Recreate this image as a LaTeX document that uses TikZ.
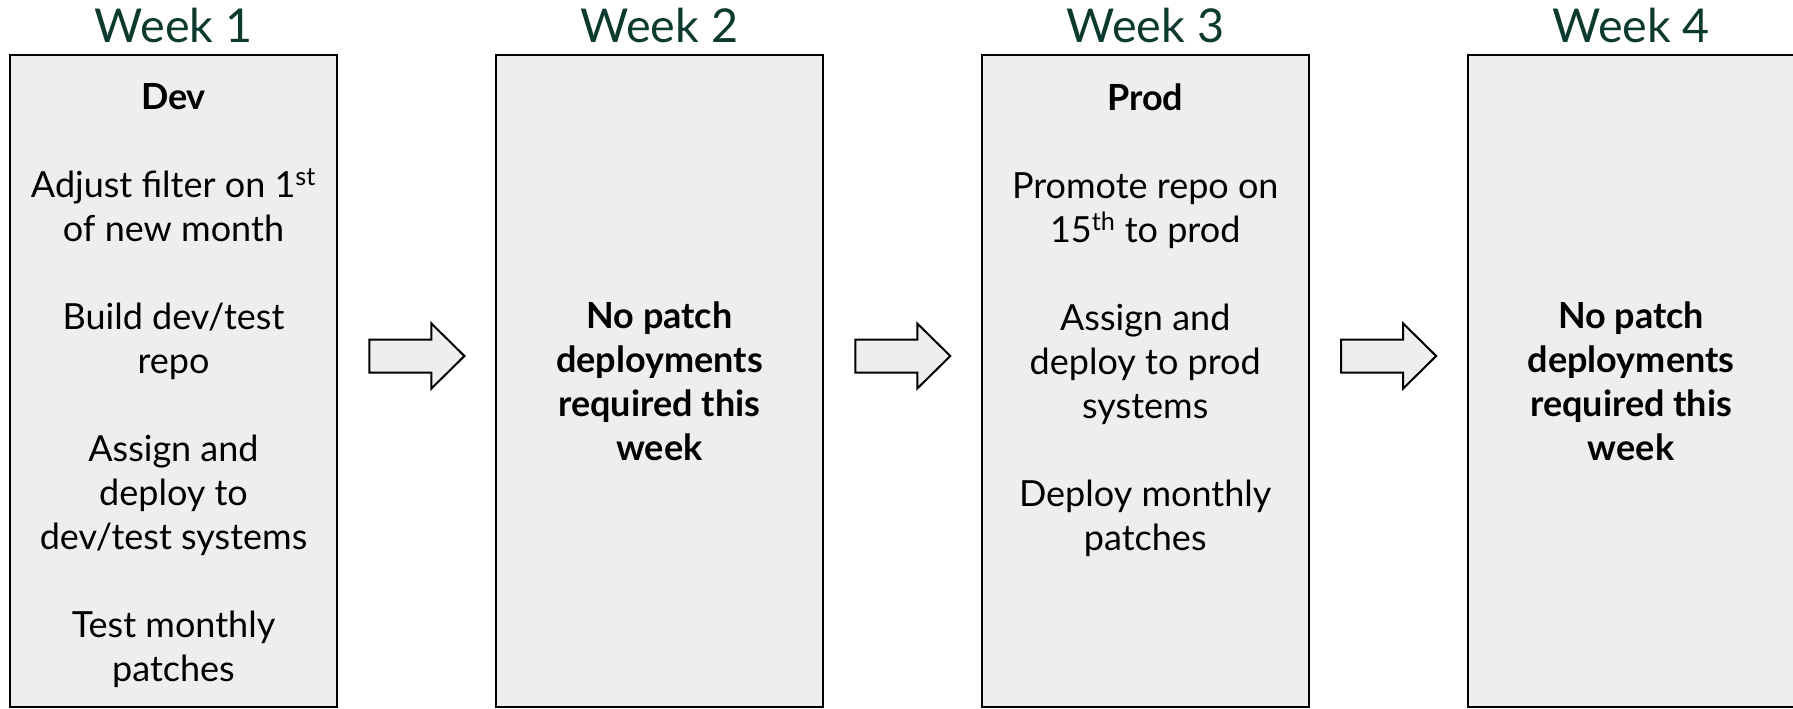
\documentclass[tikz,border=0pt]{standalone}
\usepackage{fontspec}
\setmainfont{Lato}
\usetikzlibrary{positioning,calc}
\definecolor{weekgreen}{RGB}{12,58,46}
\definecolor{boxgray}{RGB}{238,238,238}
\newcommand{\weekbodyfont}{\fontsize{27}{33}\selectfont}

\begin{document}
\begin{tikzpicture}[x=0.75pt, y=-0.75pt,
  weekbox/.style={draw=black, fill=boxgray, line width=1.5pt, inner sep=0pt,
                  minimum width=245pt, minimum height=489pt,
                  align=center, font=\weekbodyfont},
  weektitle/.style={anchor=base, text=weekgreen,
                    font=\fontsize{35}{40}\selectfont},
  boxtext/.style={anchor=north, inner sep=0pt, align=center, font=\weekbodyfont},
  blockarrow/.pic={
    \draw[line width=1.5pt, fill=boxgray, line join=miter]
      (-47,-16.5) -- (15,-16.5) -- (15,-32.5) -- (48,0)
      -- (15,32.5) -- (15,16.5) -- (-47,16.5) -- cycle;
  },
  ]

\useasboundingbox (0,0) rectangle (1793,708);

% Row of week boxes
\def\boxy{381}
\def\boxgap{117.9pt}

% ======================================================================
% The four week boxes
% ======================================================================
\node[weekbox] (wk1) at (173.5, \boxy) {};
\node[weekbox, right=\boxgap of wk1] (wk2)
  {\textbf{No patch}\\ \textbf{deployments}\\ \textbf{required this}\\ \textbf{week}};
\node[weekbox, right=\boxgap of wk2] (wk3) {};
\node[weekbox, right=\boxgap of wk3] (wk4)
  {\textbf{No patch}\\ \textbf{deployments}\\ \textbf{required this}\\ \textbf{week}};

% --- Week 1: dev tasks ---
\node[boxtext] (dev) at ([yshift=-22pt]wk1.north)
  {%
    \textbf{Dev}\\[33pt]
    Adjust filter on 1\textsuperscript{st}\\
    of new month\\[33pt]
    Build dev/test\\
    repo\\[33pt]
    Assign and\\
    deploy to\\
    dev/test systems\\[33pt]
    Test monthly\\
    patches
  };

% --- Week 3: prod tasks ---
\node[boxtext] (prod) at ([yshift=-22pt]wk3.north)
  {%
    \textbf{Prod}\\[33pt]
    Promote repo on\\
    15\textsuperscript{th} to prod\\[33pt]
    Assign and\\
    deploy to prod\\
    systems\\[33pt]
    Deploy monthly\\
    patches
  };

% ======================================================================
% Week titles
% ======================================================================
\foreach \w in {1,...,4} {
  \node[weektitle] (title\w) at ([yshift=8.5pt]wk\w.north) {Week \w};
}

% ======================================================================
% Block arrows between the weeks
% ======================================================================
\pic at ($(wk1.east)!0.5!(wk2.west)+(0,-25)$) {blockarrow};
\pic at ($(wk2.east)!0.5!(wk3.west)+(0,-25)$) {blockarrow};
\pic at ($(wk3.east)!0.5!(wk4.west)+(0,-25)$) {blockarrow};

\end{tikzpicture}
\end{document}
